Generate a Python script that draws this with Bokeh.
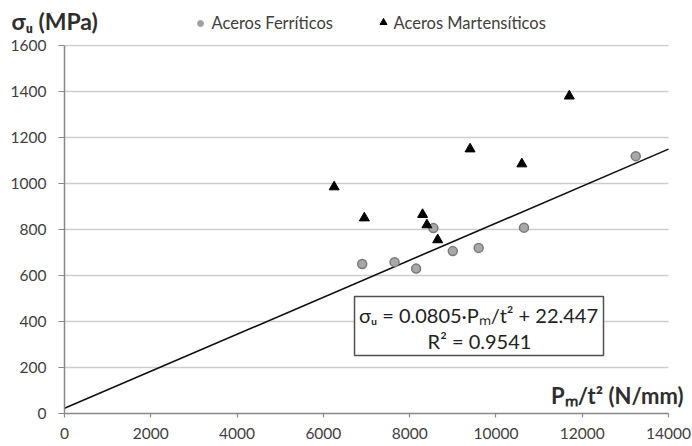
from bokeh.plotting import figure
from bokeh.layouts import column
from bokeh.models import Range1d, Label
from bokeh.models import BoxAnnotation
from bokeh.embed import file_html
from bokeh.resources import INLINE

# ---- data ----
ferr_x = [6900, 7650, 8150, 8550, 9000, 9600, 10650, 13240]
ferr_y = [650, 658, 630, 806, 706, 720, 808, 1119]
mart_x = [6250, 6950, 8300, 8400, 8650, 9400, 10600, 11700]
mart_y = [985, 850, 865, 820, 755, 1150, 1085, 1380]
fit_slope = 0.0805
fit_intercept = 22.447
fit_x = [0, 14000]
fit_y = [fit_slope * v + fit_intercept for v in fit_x]
x_ticks = [0, 2000, 4000, 6000, 8000, 10000, 12000, 14000]
y_ticks = [0, 200, 400, 600, 800, 1000, 1200, 1400, 1600]
series_names = ["Aceros Ferríticos", "Aceros Martensíticos"]

FONT = "Lato"
TXT = "#404040"
DARK = "#2e2e2e"

W = 692
HEAD_H = 35
MAIN_H = 411

# ---------- header (title + legend), pixel coordinates ----------
head = figure(width=W, height=HEAD_H, output_backend="svg", toolbar_location=None,
              x_range=Range1d(0, W), y_range=Range1d(0, HEAD_H),
              x_axis_type=None, y_axis_type=None, min_border=0)
head.frame_align = False
head.outline_line_color = None
head.grid.visible = False

head.add_layout(Label(x=11, y=15, text="σᵤ (MPa)", text_align="left",
                      text_baseline="middle", text_font=FONT, text_font_size="23px",
                      text_font_style="bold", text_color=DARK))
head.scatter([200], [12], marker="circle", size=6, fill_color="#a0a0a0",
             line_color="#a0a0a0")
head.add_layout(Label(x=211, y=13, text=series_names[0], text_align="left",
                      text_baseline="middle", text_font=FONT, text_font_size="16.5px",
                      text_color=TXT))
head.scatter([383], [13], marker="triangle", size=7, fill_color="black",
             line_color="black")
head.add_layout(Label(x=393, y=13, text=series_names[1], text_align="left",
                      text_baseline="middle", text_font=FONT, text_font_size="16.5px",
                      text_color=TXT))

# ---------- main plot ----------
p = figure(width=W, height=MAIN_H, output_backend="svg", toolbar_location=None,
           x_range=Range1d(0, 14556), y_range=Range1d(0, 1604.35),
           min_border_left=64, min_border_right=0, min_border_top=9,
           min_border_bottom=33)
p.frame_align = False
p.outline_line_color = None
p.grid.visible = False

# horizontal grid lines (only over the axis extent)
gy = y_ticks[1:]
p.segment(x0=[x_ticks[0]] * len(gy), x1=[x_ticks[-1]] * len(gy), y0=gy, y1=gy,
          line_color="#cdcdcd", line_width=1.3)

p.xaxis.ticker = x_ticks
p.yaxis.ticker = y_ticks
p.xaxis.bounds = (x_ticks[0], x_ticks[-1])
p.yaxis.bounds = (y_ticks[0], y_ticks[-1])

for ax in (p.xaxis[0], p.yaxis[0]):
    ax.axis_line_color = "#888888"
    ax.axis_line_width = 1.5
    ax.major_tick_line_color = "#888888"
    ax.major_tick_line_width = 1.2
    ax.minor_tick_line_color = None
    ax.major_tick_in = 0
    ax.major_label_text_font = FONT
    ax.major_label_text_font_size = "15.5px"
    ax.major_label_text_color = TXT
p.yaxis.major_tick_out = 6
p.xaxis.major_tick_out = 4
p.xaxis.major_label_standoff = 10
p.yaxis.major_label_standoff = 12

# fit line
p.line(fit_x, fit_y, line_color="#111111", line_width=1.6)

# data points
p.scatter(ferr_x, ferr_y, marker="circle", size=9, fill_color="#a8a8a8",
          line_color="#7a7a7a", line_width=1.5)
p.scatter(mart_x, mart_y, marker="triangle", size=10, fill_color="black",
          line_color="black")

# equation box
box = BoxAnnotation(left=6722, right=12493, bottom=252, top=509,
                    fill_color="white", fill_alpha=1.0,
                    line_color="#505050", line_width=1.5, line_alpha=1.0)
p.add_layout(box)
p.add_layout(Label(x=9596, y=430, text="σᵤ = 0.0805·Pₘ/t² + 22.447",
                   text_align="center", text_baseline="middle",
                   text_font=FONT, text_font_size="20px", text_color="#222222"))
p.add_layout(Label(x=9619, y=317, text="R² = 0.9541",
                   text_align="center", text_baseline="middle",
                   text_font=FONT, text_font_size="20px", text_color="#222222"))

# x-axis title
p.add_layout(Label(x=14348, y=78, text="Pₘ/t² (N/mm)", text_align="right",
                   text_baseline="middle", text_font=FONT, text_font_size="22px",
                   text_font_style="bold", text_color=DARK))

layout = column(head, p, spacing=0)
open("out.html", "w").write(file_html(layout, INLINE))
